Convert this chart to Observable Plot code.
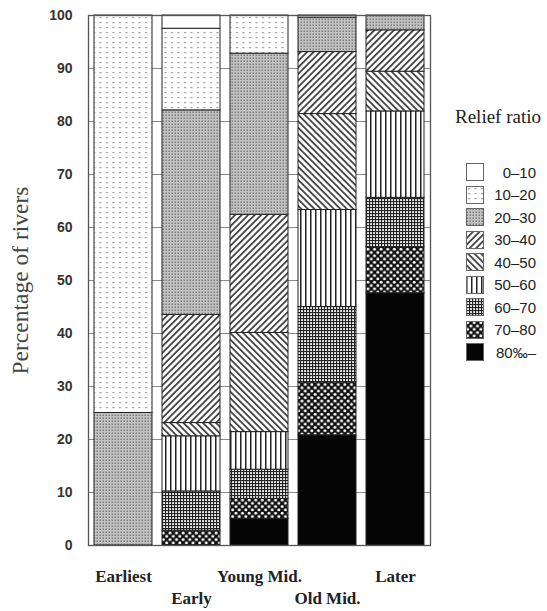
<!DOCTYPE html>
<html>
<head>
<meta charset="utf-8">
<script src="https://cdn.jsdelivr.net/npm/d3@7"></script>
<script src="https://cdn.jsdelivr.net/npm/@observablehq/plot@0.6"></script>
<style>
  html, body { margin: 0; padding: 0; background: #fff; }
  #wrap { position: relative; width: 547px; height: 611px; overflow: hidden; }
  #legend { position: absolute; left: 455px; top: 106px; }
  #legend .title { font-family: "Liberation Serif", serif; font-size: 19px; color: #222; white-space: nowrap; height: 28px; }
  #legend .items { margin-top: 27px; margin-left: 11px; }
  #legend .item { display: flex; align-items: center; height: 22.5px; }
  #legend .item svg { display: block; }
  #legend .item span { display: inline-block; width: 52px; text-align: right; font-family: "Liberation Sans", Arial, sans-serif; font-size: 15px; color: #222; }
</style>
</head>
<body>
<div id="wrap"></div>
<script>
// Categories
const stages = ["Earliest", "Early", "Young Mid.", "Old Mid.", "Later"];
const classes = ["0–10", "10–20", "20–30", "30–40", "40–50", "50–60", "60–70", "70–80", "80‰–"];
// Percentages per relief-ratio class, in stage order
const r0_10  = [0,    2.5,  0,    0,    0];
const r10_20 = [75,   15.4, 7.2,  0.4,  0];
const r20_30 = [25,   38.6, 30.4, 6.5,  2.8];
const r30_40 = [0,    20.4, 22.3, 11.7, 7.8];
const r40_50 = [0,    2.5,  18.7, 18.1, 7.5];
const r50_60 = [0,    10.4, 7.1,  18.3, 16.3];
const r60_70 = [0,    7.4,  5.5,  14.2, 9.3];
const r70_80 = [0,    2.8,  3.8,  10.0, 8.7];
const r80    = [0,    0,    5.0,  20.8, 47.6];
const yTicks = [0, 10, 20, 30, 40, 50, 60, 70, 80, 90, 100];

const series = [r0_10, r10_20, r20_30, r30_40, r40_50, r50_60, r60_70, r70_80, r80];
const patternIds = classes.map((c, i) => `pat${i}`);

// bottom-up stacking: 80‰– first
const data = [];
for (let i = classes.length - 1; i >= 0; i--) {
  stages.forEach((s, j) => {
    if (series[i][j] > 0) data.push({stage: s, cls: classes[i], value: series[i][j]});
  });
}

const chart = Plot.plot({
  width: 547,
  height: 611,
  marginLeft: 88,
  marginRight: 117,
  marginTop: 15,
  marginBottom: 66,
  style: {background: "#fff", overflow: "visible"},
  x: {domain: stages, paddingInner: 0.14, paddingOuter: 0.06, label: null},
  y: {domain: [0, 100], label: null},
  color: {type: "ordinal", domain: classes, range: patternIds.map(id => `url(#${id})`)},
  marks: [
    Plot.gridY(yTicks.slice(1, -1), {stroke: "#8a8a8a", strokeOpacity: 1, strokeWidth: 1.2}),
    Plot.barY(data, {x: "stage", y: "value", fill: "cls", stroke: "#222", strokeWidth: 1}),
    Plot.frame({stroke: "#555", strokeWidth: 1.3}),
    Plot.axisY({ticks: yTicks, tickSize: 0, tickPadding: 16, fontSize: 14, fontWeight: "bold",
      fontFamily: "Liberation Sans, Arial, sans-serif", fill: "#333", label: null}),
    Plot.axisY({ticks: [], tickSize: 0, label: "Percentage of rivers", labelAnchor: "center",
      labelArrow: "none", labelOffset: 77, fontSize: 23.5, fontFamily: "Liberation Serif, serif", fill: "#444"}),
    Plot.axisX({ticks: [stages[0], stages[2], stages[4]], tickSize: 0, tickPadding: 24, fontSize: 17,
      fontWeight: "bold", fontFamily: "Liberation Serif, serif", fill: "#222", label: null}),
    Plot.axisX({ticks: [stages[1], stages[3]], tickSize: 0, tickPadding: 46, fontSize: 17,
      fontWeight: "bold", fontFamily: "Liberation Serif, serif", fill: "#222", label: null})
  ]
});

// Hatch / dot patterns
const defs = d3.select(chart).insert("defs", ":first-child");
function pat(id, w, h, transform) {
  const p = defs.append("pattern").attr("id", id).attr("patternUnits", "userSpaceOnUse")
    .attr("width", w).attr("height", h);
  if (transform) p.attr("patternTransform", transform);
  return p;
}
// 0–10: blank
pat("pat0", 4, 4).append("rect").attr("width", 4).attr("height", 4).attr("fill", "#fff");
// 10–20: sparse dots
{ const p = pat("pat1", 6.5, 5);
  p.append("rect").attr("width", 6.5).attr("height", 5).attr("fill", "#fff");
  p.append("rect").attr("x", 2).attr("y", 2).attr("width", 2).attr("height", 1.2).attr("fill", "#999"); }
// 20–30: dense grey dots
{ const p = pat("pat2", 3, 3);
  p.append("rect").attr("width", 3).attr("height", 3).attr("fill", "#c2c2c2");
  p.append("rect").attr("x", 0.5).attr("y", 0.5).attr("width", 1.5).attr("height", 1.5).attr("fill", "#7e7e7e"); }
// 30–40: ////
{ const p = pat("pat3", 4.6, 4.6, "rotate(45)");
  p.append("rect").attr("width", 4.6).attr("height", 4.6).attr("fill", "#fff");
  p.append("rect").attr("x", 0).attr("width", 1.8).attr("height", 4.6).attr("fill", "#444"); }
// 40–50: \\\\
{ const p = pat("pat4", 4.6, 4.6, "rotate(-45)");
  p.append("rect").attr("width", 4.6).attr("height", 4.6).attr("fill", "#fff");
  p.append("rect").attr("x", 0).attr("width", 1.8).attr("height", 4.6).attr("fill", "#444"); }
// 50–60: vertical lines
{ const p = pat("pat5", 5, 5);
  p.append("rect").attr("width", 5).attr("height", 5).attr("fill", "#fff");
  p.append("rect").attr("x", 0).attr("width", 1.5).attr("height", 5).attr("fill", "#222"); }
// 60–70: fine grid
{ const p = pat("pat6", 3, 3);
  p.append("rect").attr("width", 3).attr("height", 3).attr("fill", "#eee");
  p.append("rect").attr("width", 1.1).attr("height", 3).attr("fill", "#222");
  p.append("rect").attr("width", 3).attr("height", 1.1).attr("fill", "#222"); }
// 70–80: white dots on black
{ const p = pat("pat7", 6.6, 6.6);
  p.append("rect").attr("width", 6.6).attr("height", 6.6).attr("fill", "#111");
  p.append("circle").attr("cx", 1.65).attr("cy", 1.65).attr("r", 1.5).attr("fill", "#fff");
  p.append("circle").attr("cx", 4.95).attr("cy", 4.95).attr("r", 1.5).attr("fill", "#fff"); }
// 80‰–: solid black
pat("pat8", 4, 4).append("rect").attr("width", 4).attr("height", 4).attr("fill", "#050505");

const wrap = document.getElementById("wrap");
wrap.appendChild(chart);

// Legend
const legend = d3.select(wrap).append("div").attr("id", "legend");
legend.append("div").attr("class", "title").text("Relief ratio");
const items = legend.append("div").attr("class", "items");
classes.forEach((c, i) => {
  const it = items.append("div").attr("class", "item");
  const s = it.append("svg").attr("width", 18).attr("height", 18);
  s.append("rect").attr("x", 0.5).attr("y", 0.5).attr("width", 17).attr("height", 17)
    .attr("fill", `url(#${patternIds[i]})`).attr("stroke", "#666").attr("stroke-width", 1);
  it.append("span").text(c);
});
</script>
</body>
</html>
